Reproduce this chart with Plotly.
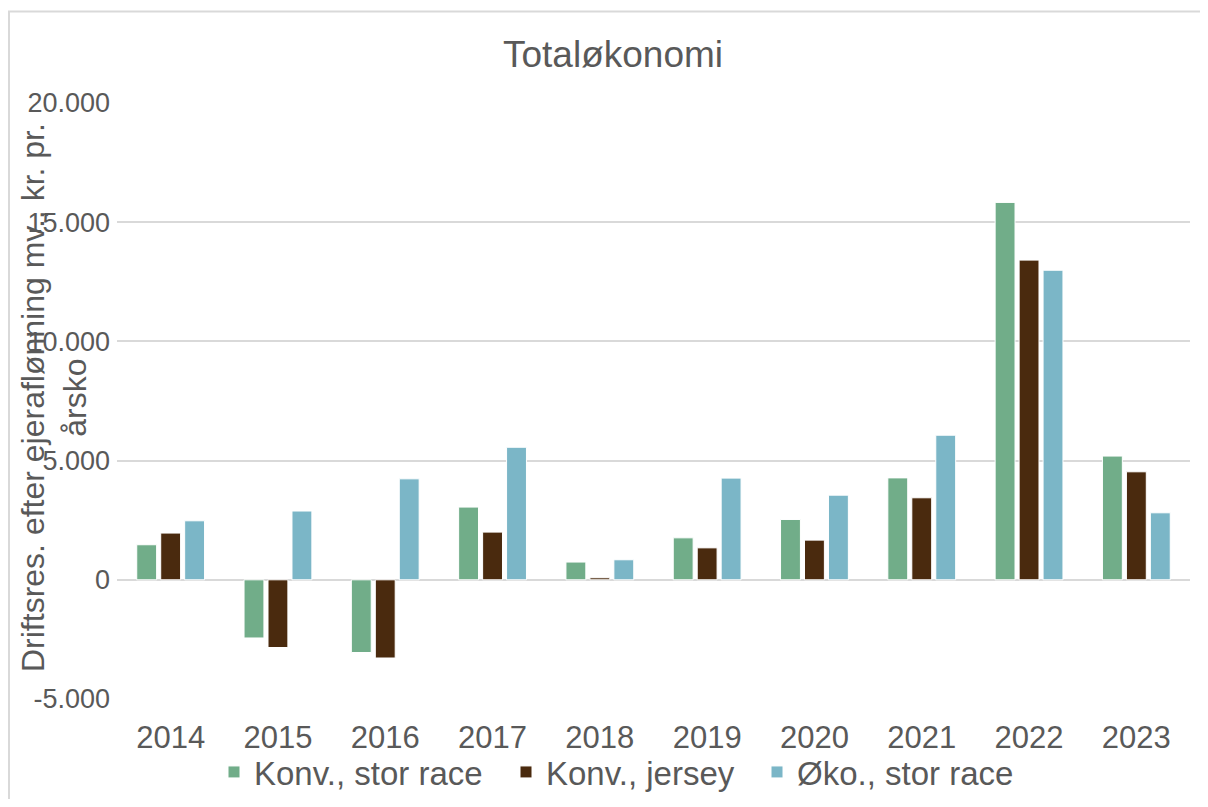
import plotly.graph_objects as go

years = ["2014", "2015", "2016", "2017", "2018", "2019", "2020", "2021", "2022", "2023"]
konv_stor = [1470, -2440, -3050, 3050, 745, 1760, 2530, 4275, 15830, 5190]
konv_jersey = [1960, -2840, -3280, 2000, 85, 1340, 1665, 3440, 13410, 4530]
oko_stor = [2475, 2885, 4235, 5560, 840, 4265, 3550, 6065, 12985, 2810]

series_names = ["Konv., stor race", "Konv., jersey", "Øko., stor race"]
colors = ["#71AD89", "#4A2A0E", "#7BB6C7"]
y_ticks = [-5000, 0, 5000, 10000, 15000, 20000]
y_tick_text = ["-5.000", "0", "5.000", "10.000", "15.000", "20.000"]

# page has an 8px body margin; work in reference (screen) pixel coords
O = 8
W, H = 1192, 791
L = 117 - O
R = W - (1190 - O)
T = 103 - O
B = H - (699 - O)
pw, ph = W - L - R, H - T - B

def px_x(p):
    return (p - O - L) / pw

def px_y(p):
    return (H - B - (p - O)) / ph

txt = "#595959"
legend_ids = ["legend", "legend2", "legend3"]
legend_x = [214, 506, 757]

fig = go.Figure()
for name, vals, col, lid in zip(series_names, [konv_stor, konv_jersey, oko_stor], colors, legend_ids):
    fig.add_trace(go.Bar(x=years, y=vals, name=name, legend=lid, showlegend=True,
                         marker=dict(color=col, line=dict(color="white", width=1))))

legend_common = dict(orientation="h", xanchor="left", y=px_y(772), yanchor="middle",
                     font=dict(size=33, color=txt), itemwidth=30,
                     bgcolor="rgba(0,0,0,0)")

fig.update_layout(
    width=W, height=H, showlegend=True,
    margin=dict(l=L, r=R, t=T, b=B, autoexpand=False),
    paper_bgcolor="white", plot_bgcolor="white",
    barmode="group", bargap=0.33, bargroupgap=0.17,
    font=dict(family="Liberation Sans, Arial, sans-serif", color=txt),
    title=dict(text="Totaløkonomi", x=px_x(613), xref="paper", xanchor="center",
               y=1 - (54 - O) / H, yanchor="middle", yref="container",
               font=dict(size=37, color=txt)),
    legend=dict(x=px_x(legend_x[0]), **legend_common),
    legend2=dict(x=px_x(legend_x[1]), **legend_common),
    legend3=dict(x=px_x(legend_x[2]), **legend_common),
    xaxis=dict(showgrid=False, showline=False, ticks="",
               tickfont=dict(size=31, color=txt), ticklabelstandoff=17),
    yaxis=dict(range=[-5000, 20000], tickvals=y_ticks, ticktext=y_tick_text,
               showgrid=True, gridcolor="#d9d9d9", gridwidth=1.5,
               zeroline=True, zerolinecolor="#d9d9d9", zerolinewidth=1.5,
               showline=False, ticks="", tickfont=dict(size=27, color=txt),
               ticklabelstandoff=6),
    annotations=[dict(text="Driftsres. efter ejeraflønning mv., kr. pr.<br>årsko",
                      xref="paper", yref="paper", x=px_x(54), y=px_y(398),
                      xanchor="center", yanchor="middle", textangle=-90,
                      showarrow=False, font=dict(size=32, color=txt))],
    shapes=[
        dict(type="line", xref="paper", yref="paper", x0=px_x(9), x1=px_x(9),
             y0=px_y(11), y1=px_y(H + O + 5), line=dict(color="#d9d9d9", width=2)),
        dict(type="line", xref="paper", yref="paper", x0=px_x(8), x1=px_x(W + O + 5),
             y0=px_y(11.5), y1=px_y(11.5), line=dict(color="#d9d9d9", width=2)),
    ],
)

fig.write_html("out.html")
